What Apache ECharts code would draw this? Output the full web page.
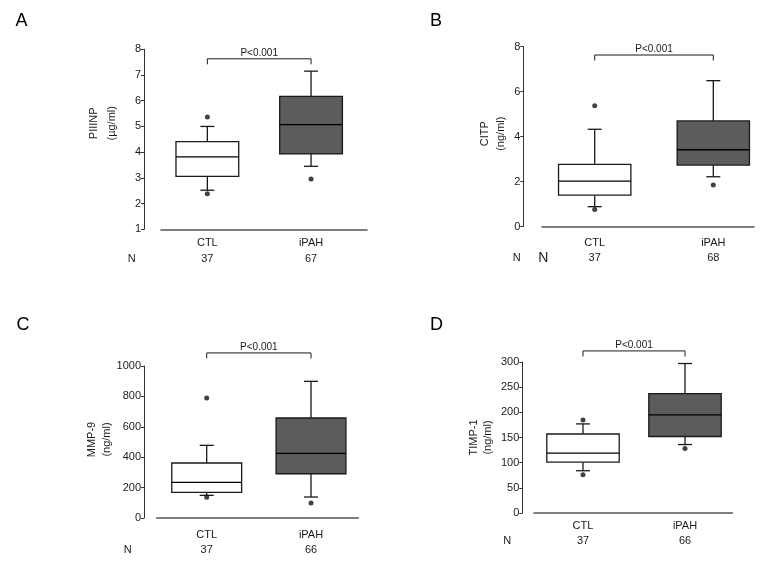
<!DOCTYPE html>
<html><head><meta charset="utf-8">
<script src="https://cdn.jsdelivr.net/npm/echarts@6/dist/echarts.min.js"></script>
<style>html,body{margin:0;padding:0;background:#fff}#c{width:768px;height:564px}</style>
</head><body><div id="c"></div>
<script>
// ---------- data ----------
const categories = ['CTL', 'iPAH'];
const panelLetters = ['A', 'B', 'C', 'D'];
const yNames = ['PIIINP', 'CITP', 'MMP-9', 'TIMP-1'];
const yUnits = ['(µg/ml)', '(ng/ml)', '(ng/ml)', '(ng/ml)'];
const yMin = [1, 0, 0, 0];
const yMax = [8, 8, 1000, 300];
const yInterval = [1, 2, 200, 50];
const countsA = [37, 67];
const countsB = [37, 68];
const countsC = [37, 66];
const countsD = [37, 66];
// box stats: [low whisker, Q1, median, Q3, high whisker]
const boxA_CTL = [2.52, 3.06, 3.82, 4.41, 5.00];
const boxA_iPAH = [3.45, 3.93, 5.07, 6.17, 7.15];
const boxB_CTL = [0.89, 1.40, 2.03, 2.77, 4.33];
const boxB_iPAH = [2.22, 2.74, 3.42, 4.70, 6.49];
const boxC_CTL = [149, 169, 235, 362, 478];
const boxC_iPAH = [138, 291, 425, 658, 899];
const boxD_CTL = [84, 101, 119, 157, 177];
const boxD_iPAH = [136, 152, 195, 237, 297];
// outliers
const outA_CTL = [5.37, 2.38];
const outA_iPAH = [2.96];
const outB_CTL = [5.38, 0.77];
const outB_iPAH = [1.85];
const outC_CTL = [789, 136];
const outC_iPAH = [99];
const outD_CTL = [185, 76];
const outD_iPAH = [128];
const pLabel = 'P<0.001';
const bracketLevel = [7.63, 7.63, 1086, 322];

// ---------- layout (pixels) ----------
const L = [
  {gl:155.5, gt:49.3, gw:207.4, gh:180, off:11.5, line:[161,367], bw:0.605, lab:[13.4,16], nameGap:23, nameLH:18, namePad:32,
   letter:[21.5,21], N:[[131.7,259,11]]},
  {gl:535.4, gt:46.7, gw:237.2, gh:180, off:12.1, line:[542,754], bw:0.61, lab:[16,15.6], nameGap:13.5, nameLH:16.7, namePad:6,
   letter:[436,21], N:[[516.7,258.3,11],[543.3,258.3,14]]},
  {gl:154.55, gt:366, gw:208.6, gh:152, off:10.5, line:[156.7,358.3], bw:0.67, lab:[17.3,15], nameGap:22, nameLH:15.7, namePad:5,
   letter:[23,325], N:[[127.7,550.3,11]]},
  {gl:532, gt:362, gw:204, gh:151, off:9.7, line:[534,732.3], bw:0.71, lab:[13,15.3], nameGap:28, nameLH:13.5, namePad:0,
   letter:[436.5,325], N:[[507.3,541.3,11]]}
];

const boxes = [[boxA_CTL, boxA_iPAH], [boxB_CTL, boxB_iPAH], [boxC_CTL, boxC_iPAH], [boxD_CTL, boxD_iPAH]];
const outs = [[outA_CTL, outA_iPAH], [outB_CTL, outB_iPAH], [outC_CTL, outC_iPAH], [outD_CTL, outD_iPAH]];
const counts = [countsA, countsB, countsC, countsD];

const FONT = 'Liberation Sans, Arial, sans-serif';
const INK = '#1a1a1a';

const grid = [], xAxis = [], yAxis = [], series = [], graphic = [];

function boxRenderer(widthRatio) {
  return function (params, api) {
    const c = api.value(0);
    const lo = api.coord([c, api.value(1)]);
    const q1 = api.coord([c, api.value(2)]);
    const md = api.coord([c, api.value(3)]);
    const q3 = api.coord([c, api.value(4)]);
    const hi = api.coord([c, api.value(5)]);
    const bw = api.size([1, 0])[0] * widthRatio;
    const x = lo[0];
    const cap = 7;
    const ls = {stroke: INK, lineWidth: 1.3};
    return {
      type: 'group',
      children: [
        {type: 'line', shape: {x1: x, y1: q3[1], x2: x, y2: hi[1]}, style: ls},
        {type: 'line', shape: {x1: x - cap, y1: hi[1], x2: x + cap, y2: hi[1]}, style: ls},
        {type: 'line', shape: {x1: x, y1: q1[1], x2: x, y2: lo[1]}, style: ls},
        {type: 'line', shape: {x1: x - cap, y1: lo[1], x2: x + cap, y2: lo[1]}, style: ls},
        {type: 'rect', shape: {x: x - bw / 2, y: q3[1], width: bw, height: q1[1] - q3[1]},
         style: {fill: c === 0 ? '#ffffff' : '#5c5c5c', stroke: INK, lineWidth: 1.3}},
        {type: 'line', shape: {x1: x - bw / 2, y1: md[1], x2: x + bw / 2, y2: md[1]}, style: {stroke: '#000', lineWidth: 1.3}}
      ]
    };
  };
}

function bracketRender(params, api) {
  const a = api.coord([api.value(0), api.value(2)]);
  const b = api.coord([api.value(1), api.value(2)]);
  const drop = 5.5;
  return {
    type: 'group',
    children: [
      {type: 'polyline', shape: {points: [[a[0], a[1] + drop], [a[0], a[1]], [b[0], b[1]], [b[0], b[1] + drop]]},
       style: {stroke: INK, lineWidth: 1, fill: null}},
      {type: 'text', x: (a[0] + b[0]) / 2, y: a[1] - 1,
       style: {text: pLabel, font: '10px ' + FONT, fill: INK, align: 'center', verticalAlign: 'bottom'}}
    ]
  };
}

L.forEach((p, i) => {
  const g0 = 2 * i, g1 = 2 * i + 1;
  const lineY = p.gt + p.gh;
  grid.push({left: p.gl, top: p.gt, width: p.gw, height: p.gh, containLabel: false, outerBoundsMode: 'none'});
  grid.push({left: p.line[0], top: lineY - 10, width: p.line[1] - p.line[0], height: 10, containLabel: false, outerBoundsMode: 'none'});
  const cnt = counts[i];
  xAxis.push({
    type: 'category', gridIndex: g0, data: categories,
    axisLine: {show: false}, axisTick: {show: false}, splitLine: {show: false},
    axisLabel: {
      margin: p.lab[0] - p.lab[1] / 2, fontSize: 11, fontFamily: FONT, color: INK, lineHeight: p.lab[1],
      formatter: (v, idx) => v + '\n' + cnt[idx]
    }
  });
  xAxis.push({
    type: 'value', gridIndex: g1, min: 0, max: 1,
    axisLine: {show: true, lineStyle: {color: '#555', width: 1.6}},
    axisTick: {show: false}, axisLabel: {show: false}, splitLine: {show: false}
  });
  yAxis.push({
    type: 'value', gridIndex: g0, min: yMin[i], max: yMax[i], interval: yInterval[i], offset: p.off,
    axisLine: {show: true, lineStyle: {color: '#333', width: 1}},
    axisTick: {show: true, length: 3, lineStyle: {color: '#333'}},
    axisLabel: {fontSize: 11, fontFamily: FONT, color: INK, margin: 3, formatter: v => String(v)},
    splitLine: {show: false},
    name: '{a|' + yNames[i] + '}\n{b|' + yUnits[i] + '}',
    nameLocation: 'middle', nameRotate: 90, nameGap: p.nameGap,
    nameTextStyle: {
      padding: [0, 0, 0, p.namePad],
      rich: {
        a: {fontSize: 11, fontFamily: FONT, color: INK, lineHeight: p.nameLH},
        b: {fontSize: 11, fontFamily: FONT, color: INK, lineHeight: p.nameLH}
      }
    }
  });
  yAxis.push({type: 'value', gridIndex: g1, show: false, min: 0, max: 1});

  series.push({
    type: 'custom', xAxisIndex: g0, yAxisIndex: g0, clip: false,
    renderItem: boxRenderer(p.bw),
    encode: {x: 0, y: [1, 2, 3, 4, 5]},
    data: boxes[i].map((b, k) => [k].concat(b))
  });
  const od = [];
  outs[i].forEach((arr, k) => arr.forEach(v => od.push([k, v])));
  series.push({
    type: 'scatter', xAxisIndex: g0, yAxisIndex: g0, symbol: 'circle', symbolSize: 5,
    itemStyle: {color: '#111'}, data: od, clip: false
  });
  series.push({
    type: 'custom', xAxisIndex: g0, yAxisIndex: g0, clip: false,
    renderItem: bracketRender,
    encode: {x: [0, 1], y: 2},
    data: [[0, 1, bracketLevel[i]]]
  });

  graphic.push({type: 'text', x: p.letter[0], y: p.letter[1],
    style: {text: panelLetters[i], font: '18px ' + FONT, fill: '#000', align: 'center', verticalAlign: 'middle'}});
  p.N.forEach(n => graphic.push({type: 'text', x: n[0], y: n[1],
    style: {text: 'N', font: n[2] + 'px ' + FONT, fill: INK, align: 'center', verticalAlign: 'middle'}}));
});

const chart = echarts.init(document.getElementById('c'), null, {renderer: 'canvas'});
chart.setOption({
  backgroundColor: '#fff',
  animation: false,
  grid, xAxis, yAxis, series, graphic
});
</script>
</body></html>
